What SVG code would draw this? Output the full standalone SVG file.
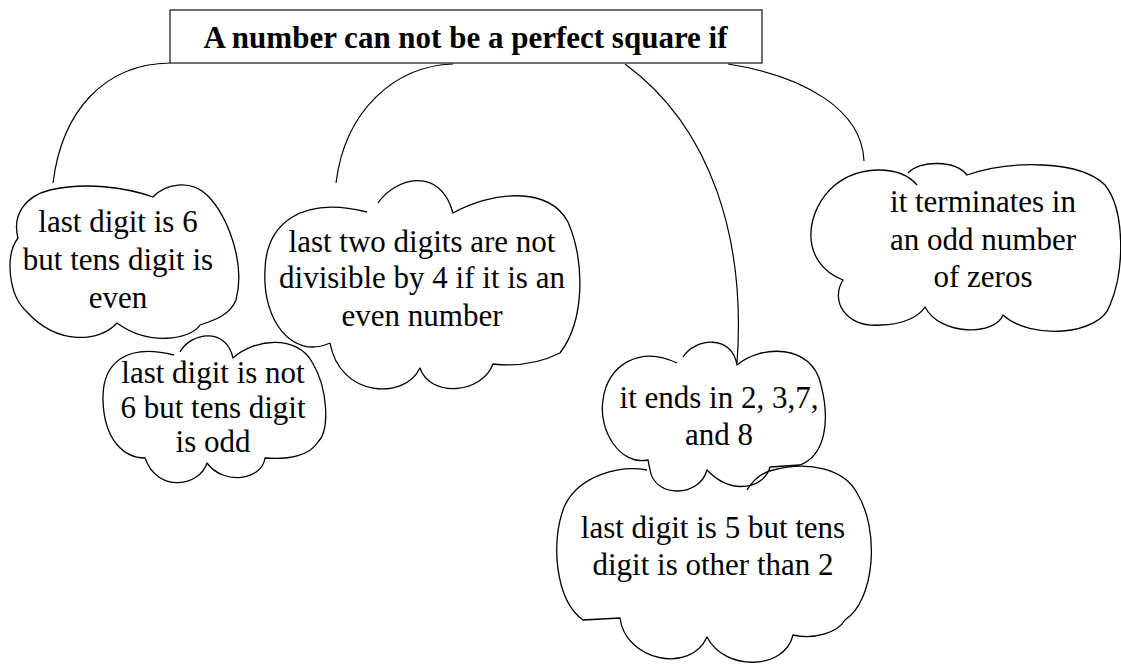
<svg xmlns="http://www.w3.org/2000/svg" width="1121" height="665" viewBox="0 0 1121 665">
<style>
.bg{fill:#fff}
.box{fill:#fff;stroke:#222;stroke-width:1.3}
.title{font-weight:bold;font-size:31px;fill:#000;text-anchor:middle}
.lbl{font-size:31px;fill:#000;text-anchor:middle}
.cloud{fill:none;stroke:#000;stroke-width:1.3;stroke-linejoin:round}
.conn{fill:none;stroke:#000;stroke-width:1.2}
</style>
<rect class="bg" x="0" y="0" width="1121" height="665"/>
<g id="connectors">
<path class="conn" d="M170,63 C105,64 62,110 53,183"/>
<path class="conn" d="M453,64 C395,66 345,110 336,183"/>
<path class="conn" d="M625,64 C712,128 746,240 737,363"/>
<path class="conn" d="M728,64 C805,76 862,110 864,161"/>
</g>
<g font-family="Liberation Serif, Times New Roman, serif">
<g id="title">
<rect class="box" x="170" y="10" width="592" height="53"/>
<text class="title" x="465.5" y="48">A number can not be a perfect square if</text>
</g>
<g id="cloud-last6">
<path class="cloud" d="M18,238 C12,215 25,196 50,190 C85,182 125,187 153,197 C165,184 190,179 207,195 C227,215 246,262 236,300 C230,315 215,320 200,325 C190,340 148,346 117,323 C100,342 58,346 27,312 C8,295 5,255 18,238 Z"/>
<text class="lbl" x="118" y="232">last digit is 6</text>
<text class="lbl" x="118" y="270">but tens digit is</text>
<text class="lbl" x="118" y="308">even</text>
</g>
<g id="cloud-lasttwo">
<path class="cloud" d="M330,343 C292,360 262,320 265,270 C266,225 300,195 367,212 M378,203 C395,178 440,165 453,213 C490,192 548,185 568,222 C585,262 585,320 560,353 Q530,368 493,364 C482,394 430,398 420,368 C405,400 340,398 330,343"/>
<text class="lbl" x="422" y="252">last two digits are not</text>
<text class="lbl" x="422" y="288">divisible by 4 if it is an</text>
<text class="lbl" x="422" y="326">even number</text>
</g>
<g id="cloud-not6">
<path class="cloud" d="M180,352 C190,333 226,326 233,358 C255,338 297,335 312,362 C328,388 330,430 318,442 C310,455 290,460 265,458 C262,480 224,486 207,463 C200,486 158,494 145,458 C124,458 104,440 103,400 C102,362 127,343 174,355"/>
<text class="lbl" x="213" y="383">last digit is not</text>
<text class="lbl" x="213" y="418">6 but tens digit</text>
<text class="lbl" x="213" y="452">is odd</text>
</g>
<g id="cloud-zeros">
<path class="cloud" d="M917,185 C900,165 860,165 835,185 C805,210 798,262 843,280 C830,300 845,328 880,325 C905,325 920,315 925,307 C940,336 995,336 1003,315 C1030,340 1100,336 1110,305 C1125,270 1125,210 1105,185 C1080,160 1010,160 967,175 C955,160 920,160 908,173"/>
<text class="lbl" x="983" y="212">it terminates in</text>
<text class="lbl" x="983" y="250">an odd number</text>
<text class="lbl" x="983" y="287">of zeros</text>
</g>
<g id="cloud-ends">
<path class="cloud" d="M683,357 C695,338 732,334 737,365 C760,345 812,343 821,385 C830,420 826,455 800,465 L770,467 C765,487 733,497 707,470 C700,497 655,499 650,470 L648,460 C620,466 598,430 603,400 C607,365 640,345 677,363"/>
<text class="lbl" x="719" y="408">it ends in 2, 3,7,</text>
<text class="lbl" x="719" y="445">and 8</text>
</g>
<g id="cloud-last5">
<path class="cloud" d="M647,470 C620,465 580,475 565,505 C550,540 555,600 583,620 L620,618 C625,660 690,675 707,637 C725,672 785,670 793,635 C815,640 838,632 845,620 C875,600 880,530 857,493 C845,470 810,460 773,470 C760,473 752,482 747,490"/>
<text class="lbl" x="713" y="538">last digit is 5 but tens</text>
<text class="lbl" x="713" y="575">digit is other than 2</text>
</g>
</g>
</svg>
